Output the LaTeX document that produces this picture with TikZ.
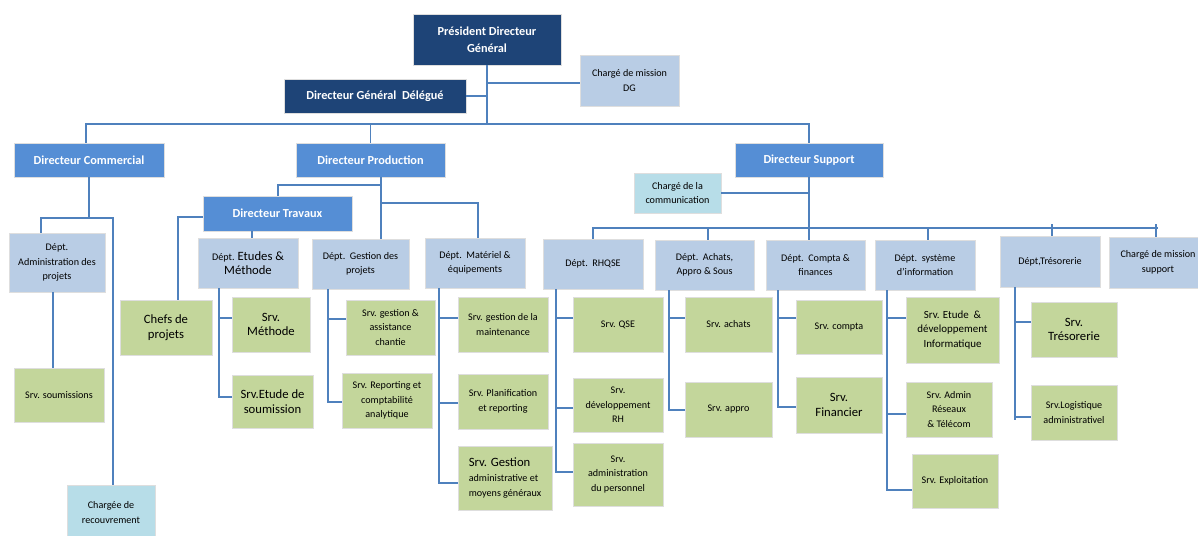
\documentclass[tikz,border=0pt]{standalone}
\usepackage{fontspec}
\setmainfont{Carlito}
\definecolor{navyc}{HTML}{1E4477}
\definecolor{midc}{HTML}{558ED5}
\definecolor{lbluec}{HTML}{B9CDE5}
\definecolor{greenc}{HTML}{C3D69B}
\definecolor{cyanc}{HTML}{B7DDE8}
\definecolor{linec}{HTML}{4F81BD}
\newcommand\fSm{\fontsize{7.6}{10.9}\selectfont}
\newcommand\fMd{\fontsize{8.2}{11.2}\selectfont}
\newcommand\fLg{\fontsize{9.5}{12.8}\selectfont}
\newcommand\fTt{\fontsize{9.2}{12.6}\selectfont\bfseries}
\tikzset{
  box/.style={draw=black!13, line width=0.6pt, inner sep=1pt, align=center},
  navybox/.style={box, fill=navyc, text=white, font=\fTt},
  dirbox/.style={box, fill=midc, text=white, font=\fTt},
  deptbox/.style={box, fill=lbluec, font=\fSm},
  srvbox/.style={box, fill=greenc, font=\fSm},
  cyanbox/.style={box, fill=cyanc, font=\fSm},
  conn/.style={draw=linec, line width=1.4pt},
}
\newcommand\bx[7]{\node[#6, minimum width={(#4-#2)*0.75pt}, minimum height={(#5-#3)*0.75pt}] (#1) at ({(#2+#4)/2},{(#3+#5)/2}) {#7};}
\begin{document}
\begin{tikzpicture}[x=0.75pt,y=-0.75pt]
\clip (0,0) rectangle (1198,535);
\fill[white] (0,0) rectangle (1198,535);
% ---- boxes ----
\bx{pdg}{413}{14}{561}{65}{navybox}{Président Directeur\\Général}
\bx{cmdg}{580}{55}{679}{106}{deptbox}{Chargé de mission\\DG}
\bx{dgd}{284}{79}{466}{113}{navybox}{Directeur Général\ \ Délégué}
\bx{dcom}{14}{143}{164}{177}{dirbox}{Directeur Commercial}
\bx{dprod}{296}{143}{445}{177}{dirbox}{Directeur Production}
\bx{dsup}{735}{143}{883}{177}{dirbox}{Directeur Support}
\bx{dadm}{9}{233}{105}{292}{deptbox}{Dépt.\\Administration des\\projets}
\bx{ssoum}{14}{368}{104}{422}{srvbox}{Srv. soumissions}
\bx{crec}{67}{485}{155}{540}{cyanbox}{Chargée de\\recouvrement}
\bx{dtrav}{203}{196}{352}{231}{dirbox}{Directeur Travaux}
\bx{chefs}{120}{300}{212}{355}{srvbox}{\fLg Chefs de\\\fLg projets}
\bx{detm}{198}{238}{298}{288}{deptbox}{Dépt. {\fLg Etudes \&}\\{\fLg Méthode}}
\bx{smeth}{232}{297}{310}{352}{srvbox}{\fLg Srv.\\\fLg Méthode}
\bx{setud}{232}{375}{313}{428}{srvbox}{\fLg Srv.Etude de\\\fLg soumission}
\bx{dgp}{312}{239}{409}{289}{deptbox}{Dépt.\ \ Gestion des\\projets}
\bx{sgac}{346}{300}{435}{355}{srvbox}{Srv. gestion \&\\assistance\\chantie}
\bx{srep}{342}{373}{432}{428}{srvbox}{Srv. Reporting et\\comptabilité\\analytique}
\bx{dmat}{425}{238}{525}{288}{deptbox}{Dépt.\ \ Matériel \&\\équipements}
\bx{smaint}{458}{297}{548}{352}{srvbox}{Srv. gestion de la\\maintenance}
\bx{splan}{458}{374}{548}{429}{srvbox}{Srv. Planification\\et reporting}
\node[srvbox, align=left, minimum width={94*0.75pt}, minimum height={64*0.75pt}] (sgest) at (505,478) {{\fLg Srv. Gestion}\\administrative et\\moyens généraux};
\bx{ccom}{634}{173}{721}{213}{cyanbox}{Chargé de la\\communication}
\bx{drh}{543}{239}{643}{289}{deptbox}{Dépt.\ \ RHQSE}
\bx{dach}{655}{240}{754}{290}{deptbox}{Dépt.\ \ Achats,\\Appro \& Sous}
\bx{dcpt}{766}{240}{865}{290}{deptbox}{Dépt.\ \ Compta \&\\finances}
\bx{dsi}{875}{240}{975}{290}{deptbox}{Dépt.\ \ système\\d'information}
\bx{dtre}{1000}{236}{1100}{287}{deptbox}{Dépt,Trésorerie}
\bx{cms}{1109}{237}{1207}{288}{deptbox}{Chargé de mission\\support}
\bx{sqse}{573}{297}{663}{352}{srvbox}{Srv. QSE}
\bx{sdrh}{573}{378}{663}{432}{srvbox}{Srv.\\développement\\RH}
\bx{sadp}{573}{443}{663}{506}{srvbox}{Srv.\\administration\\du personnel}
\bx{sach}{685}{297}{772}{352}{srvbox}{Srv. achats}
\bx{sapp}{685}{382}{772}{437}{srvbox}{Srv. appro}
\bx{scpt}{796}{300}{882}{354}{srvbox}{Srv. compta}
\bx{sfin}{796}{377}{882}{433}{srvbox}{\fLg Srv.\\\fLg Financier}
\bx{sedi}{906}{297}{999}{363}{srvbox}{\fMd Srv. Etude\ \ \&\\\fMd développement\\\fMd Informatique}
\bx{sarx}{906}{382}{992}{437}{srvbox}{Srv. Admin\\Réseaux\\\& Télécom}
\bx{sexp}{912}{454}{998}{508}{srvbox}{Srv. Exploitation}
\bx{strs}{1031}{302}{1117}{357}{srvbox}{\fLg Srv.\\\fLg Trésorerie}
\bx{slog}{1031}{385}{1117}{440}{srvbox}{Srv.Logistique\\administrativel}
% ---- connectors ----
\draw[conn] (pdg.south) -- (pdg.south |- 0,124);
\draw[conn] (dgd.east) -- (dgd.east -| pdg.south);
\draw[conn] (pdg.south |- 0,83) -- (cmdg.west |- 0,83);
\draw[conn] (dcom.north -| 86,0) |- (dsup.north |- 0,124) -- (dsup.north);
\draw[conn] (dprod.north) -- (dprod.north |- 0,124);
% commercial
\draw[conn] (dcom.south) -- (dcom.south |- 0,218);
\draw[conn] (dadm.north -| 41,0) |- (113,218) -- (crec.north -| 113,0);
\draw[conn] (dadm.south -| 53,0) -- (ssoum.north -| 53,0);
% production
\draw[conn] (dprod.south -| 381,0) -- (dgp.north -| 381,0);
\draw[conn] (dtrav.north -| 278,0) |- (381,185);
\draw[conn] (381,203) -| (dmat.north -| 478,0);
\draw[conn] (dtrav.west |- 0,217) -| (chefs.north -| 178,0);
\draw[conn] (dtrav.south -| 252,0) -- (detm.north -| 252,0);
\draw[conn] (detm.south -| 219,0) |- (setud.west |- 0,397);
\draw[conn] (219,318) -- (smeth.west |- 0,318);
\draw[conn] (dgp.south -| 328,0) |- (srep.west |- 0,402);
\draw[conn] (328,319) -- (sgac.west |- 0,319);
\draw[conn] (dmat.south -| 439,0) |- (sgest.west |- 0,483);
\draw[conn] (439,318) -- (smaint.west |- 0,318);
\draw[conn] (439,403) -- (splan.west |- 0,403);
% support
\draw[conn] (dsup.south) -- (dsup.south |- dcpt.north);
\draw[conn] (ccom.east) -- (ccom.east -| dsup.south);
\draw[conn] (drh.north -| 593,0) |- (cms.north |- 0,228);
\draw[conn] (dach.north -| 708,0) -- (708,228);
\draw[conn] (dsi.north -| 928,0) -- (928,228);
\draw[conn] (dtre.north -| 1052,0) -- (1052,224);
\draw[conn] (cms.north -| 1156,0) -- (1156,224);
\draw[conn] (drh.south -| 556,0) |- (sadp.west |- 0,472);
\draw[conn] (556,318) -- (sqse.west |- 0,318);
\draw[conn] (556,408) -- (sdrh.west |- 0,408);
\draw[conn] (dach.south -| 669,0) |- (sapp.west |- 0,410);
\draw[conn] (669,318) -- (sach.west |- 0,318);
\draw[conn] (dcpt.south -| 778,0) |- (sfin.west |- 0,407);
\draw[conn] (778,318) -- (scpt.west |- 0,318);
\draw[conn] (dsi.south -| 887,0) |- (sexp.west |- 0,490);
\draw[conn] (887,318) -- (sedi.west |- 0,318);
\draw[conn] (887,414) -- (sarx.west |- 0,414);
\draw[conn] (dtre.south -| 1015,0) -- (1015,420);
\draw[conn] (1015,322) -- (strs.west |- 0,322);
\draw[conn] (1015,417) -- (slog.west |- 0,417);
\end{tikzpicture}
\end{document}
